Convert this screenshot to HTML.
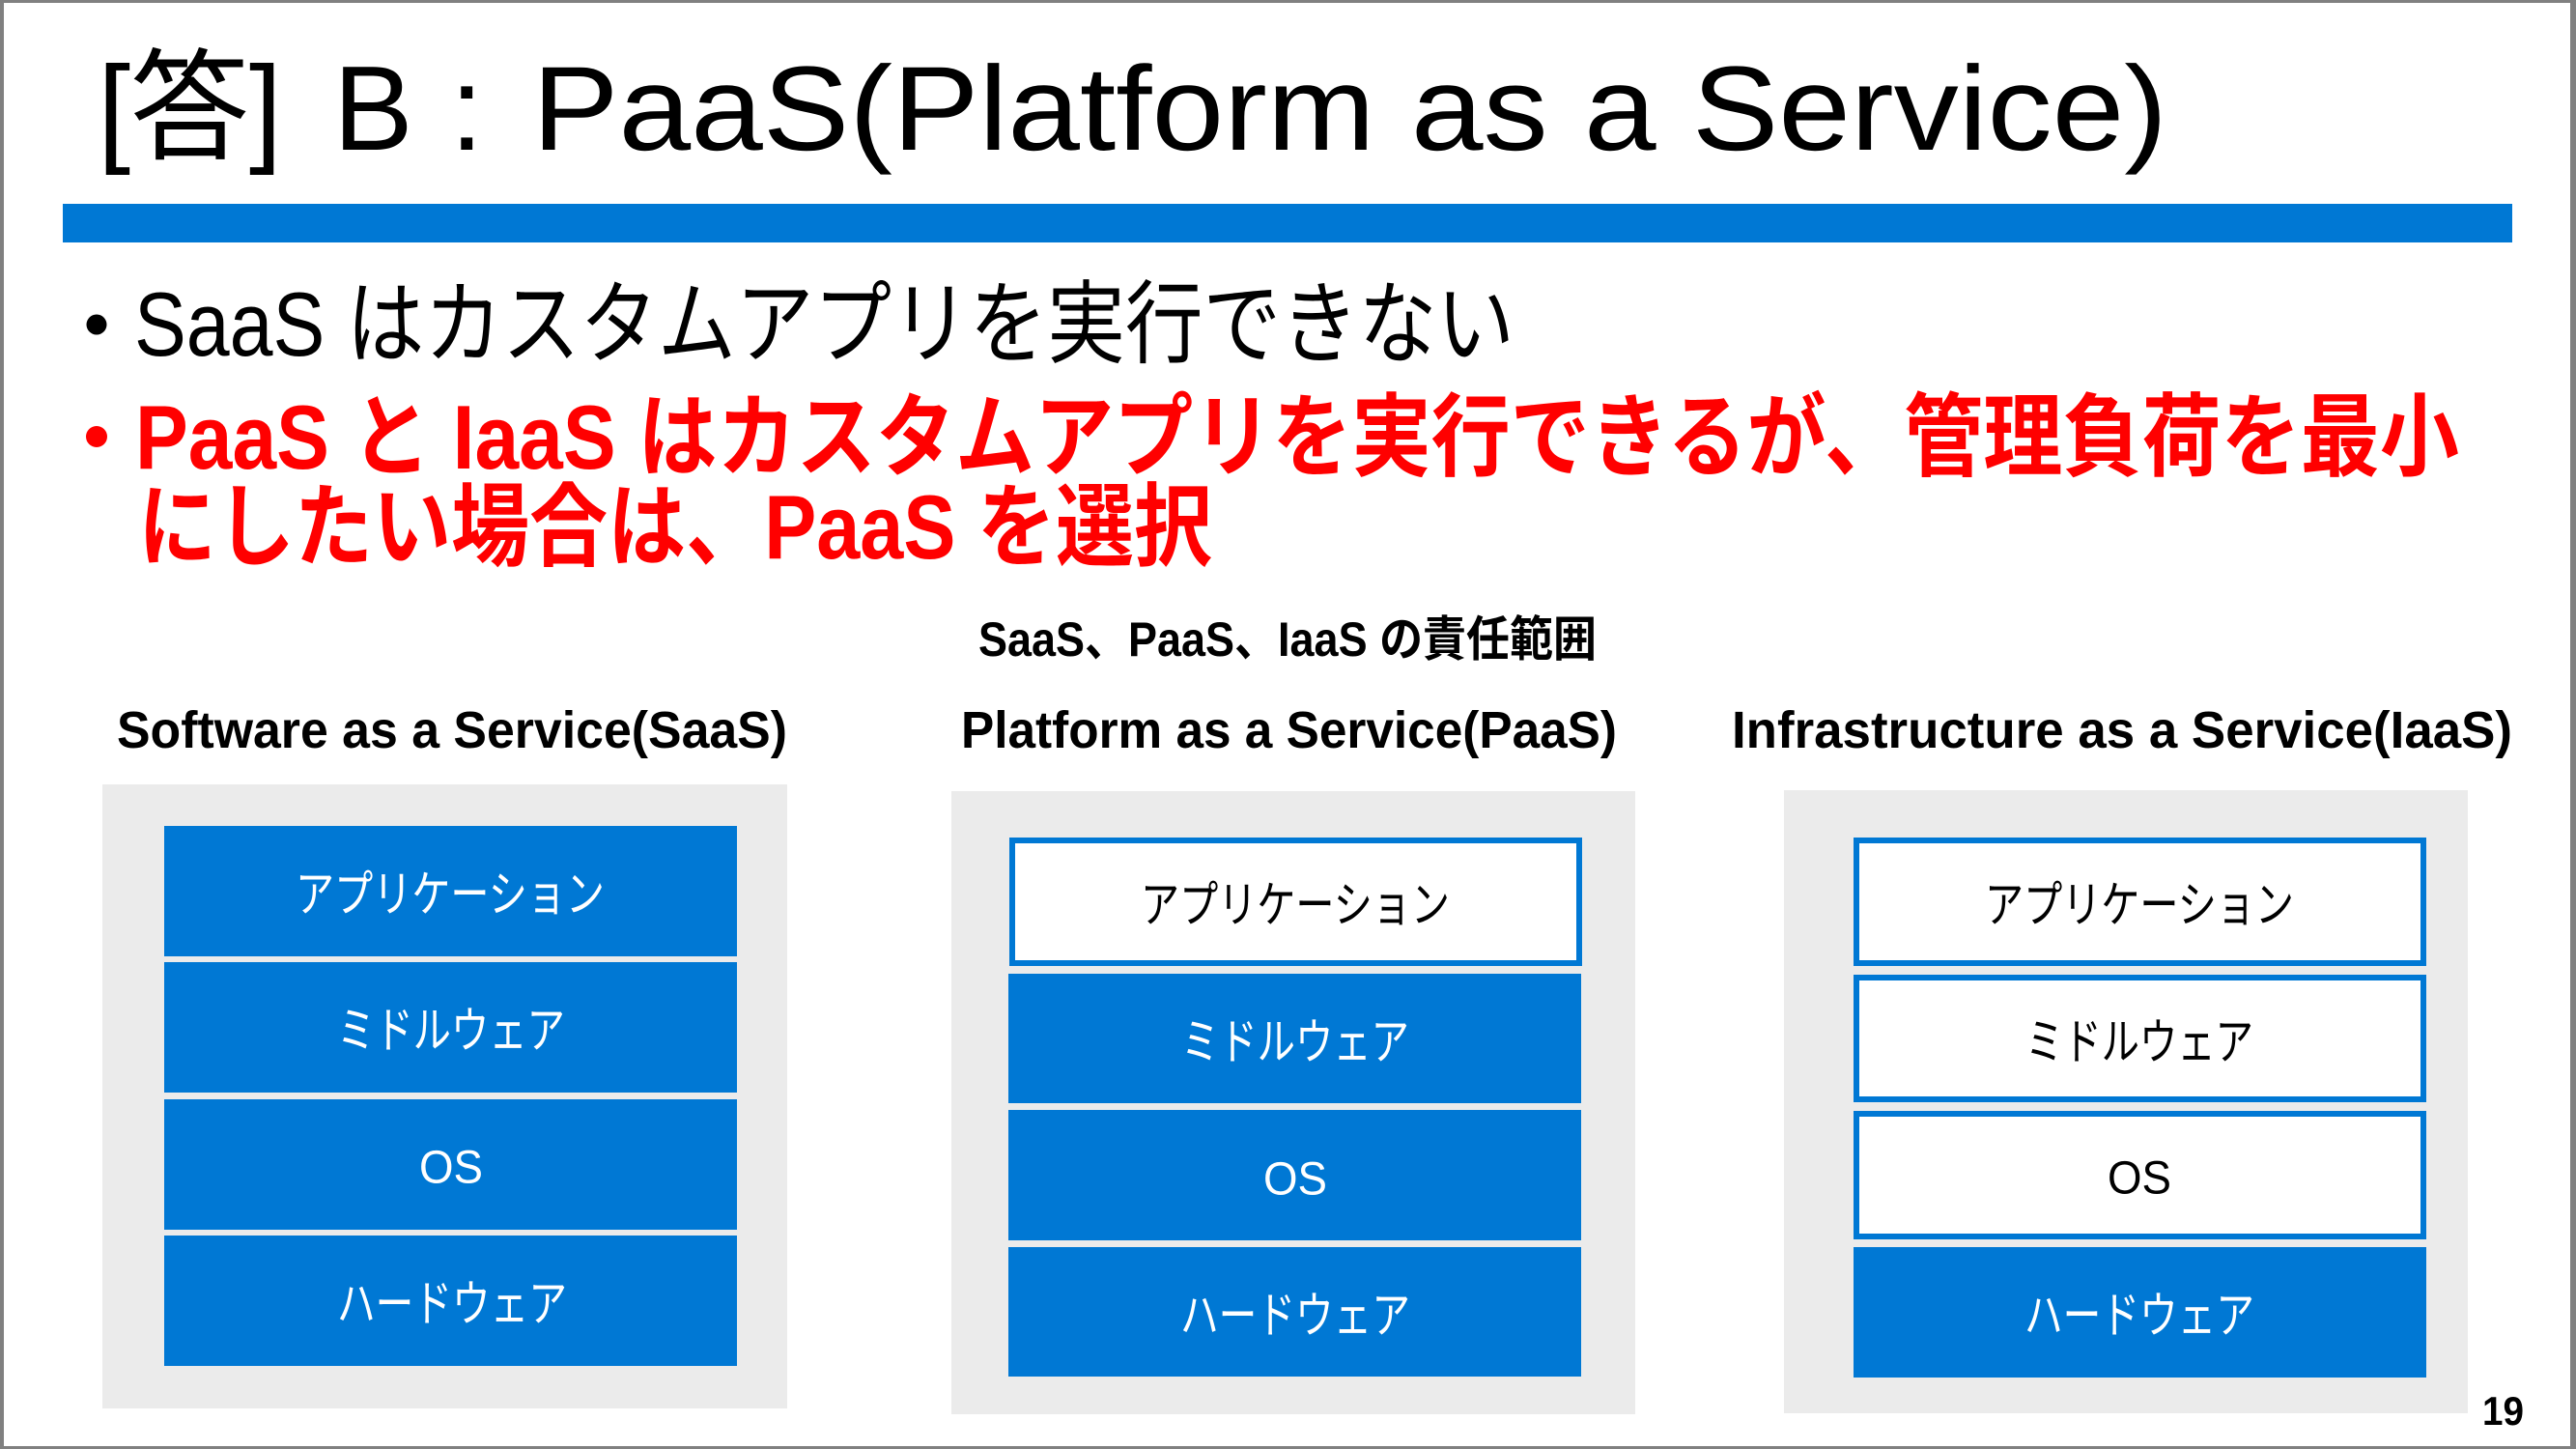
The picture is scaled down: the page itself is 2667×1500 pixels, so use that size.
<!DOCTYPE html>
<html lang="ja">
<head>
<meta charset="utf-8">
<style>
  html, body { margin: 0; padding: 0; background: #ffffff; }
  body { width: 2667px; height: 1500px; overflow: hidden; }
  svg { display: block; }
  .f { font-family: "Liberation Sans", "Noto Sans CJK JP", sans-serif; }
  .b { font-weight: 700; }
</style>
</head>
<body>
<svg width="2667" height="1500" viewBox="0 0 2667 1500" xmlns="http://www.w3.org/2000/svg">
  <!-- page background and frame -->
  <rect x="0" y="0" width="2667" height="1500" fill="#808080"/>
  <rect x="4" y="3" width="2657" height="1494" fill="#ffffff"/>

  <!-- Title -->
  <g class="f" font-size="124" fill="#000">
    <text x="101" y="155" textLength="191" lengthAdjust="spacingAndGlyphs">[答]</text>
    <text x="345" y="155">B</text>
    <text x="466" y="155">:</text>
    <text x="551" y="155" textLength="1693" lengthAdjust="spacingAndGlyphs">PaaS(Platform as a Service)</text>
  </g>

  <!-- Blue rule -->
  <rect x="65" y="211" width="2536" height="40" fill="#0078d4"/>

  <!-- Bullets -->
  <circle cx="100" cy="336" r="10.5" fill="#000"/>
  <text class="f" x="139" y="368" font-size="94" fill="#000" textLength="1429" lengthAdjust="spacingAndGlyphs">SaaS はカスタムアプリを実行できない</text>

  <circle cx="100" cy="452" r="11" fill="#ff0000"/>
  <text class="f b" x="140" y="485" font-size="94" fill="#ff0000" textLength="2406" lengthAdjust="spacingAndGlyphs">PaaS と IaaS はカスタムアプリを実行できるが、管理負荷を最小</text>
  <text class="f b" x="143" y="578" font-size="94" fill="#ff0000" textLength="1112" lengthAdjust="spacingAndGlyphs">にしたい場合は、PaaS を選択</text>

  <!-- Diagram headers -->
  <g class="f b" fill="#000">
    <text x="1013" y="679" font-size="50" textLength="640" lengthAdjust="spacingAndGlyphs">SaaS、PaaS、IaaS の責任範囲</text>
    <text x="121" y="774" font-size="54" textLength="694" lengthAdjust="spacingAndGlyphs">Software as a Service(SaaS)</text>
    <text x="995" y="774" font-size="54" textLength="679" lengthAdjust="spacingAndGlyphs">Platform as a Service(PaaS)</text>
    <text x="1793" y="774" font-size="54" textLength="808" lengthAdjust="spacingAndGlyphs">Infrastructure as a Service(IaaS)</text>
  </g>

  <!-- Panels -->
  <rect x="106" y="812" width="709" height="646" fill="#ebebeb"/>
  <rect x="985" y="819" width="708" height="645" fill="#ebebeb"/>
  <rect x="1847" y="818" width="708" height="645" fill="#ebebeb"/>

  <!-- SaaS boxes (all blue) -->
  <rect x="170" y="855" width="593" height="135" fill="#0078d4"/>
  <rect x="170" y="996" width="593" height="135" fill="#0078d4"/>
  <rect x="170" y="1138" width="593" height="135" fill="#0078d4"/>
  <rect x="170" y="1279" width="593" height="135" fill="#0078d4"/>
  <g class="f" font-size="51" fill="#ffffff" text-anchor="middle" dominant-baseline="central">
    <text x="466" y="926" textLength="320" lengthAdjust="spacingAndGlyphs">アプリケーション</text>
    <text x="467" y="1067" textLength="236" lengthAdjust="spacingAndGlyphs">ミドルウェア</text>
    <text x="467" y="1209" font-size="48" textLength="66" lengthAdjust="spacingAndGlyphs">OS</text>
    <text x="468" y="1350" textLength="238" lengthAdjust="spacingAndGlyphs">ハードウェア</text>
  </g>

  <!-- PaaS boxes -->
  <rect x="1048" y="870" width="587" height="127" fill="#ffffff" stroke="#0078d4" stroke-width="6"/>
  <rect x="1044" y="1008" width="593" height="134" fill="#0078d4"/>
  <rect x="1044" y="1149" width="593" height="135" fill="#0078d4"/>
  <rect x="1044" y="1291" width="593" height="134" fill="#0078d4"/>
  <g class="f" font-size="51" text-anchor="middle" dominant-baseline="central">
    <text x="1341" y="937" fill="#000" textLength="320" lengthAdjust="spacingAndGlyphs">アプリケーション</text>
    <text x="1341" y="1079" fill="#fff" textLength="236" lengthAdjust="spacingAndGlyphs">ミドルウェア</text>
    <text x="1341" y="1221" fill="#fff" font-size="48" textLength="66" lengthAdjust="spacingAndGlyphs">OS</text>
    <text x="1341" y="1362" fill="#fff" textLength="238" lengthAdjust="spacingAndGlyphs">ハードウェア</text>
  </g>

  <!-- IaaS boxes -->
  <rect x="1922" y="870" width="587" height="127" fill="#ffffff" stroke="#0078d4" stroke-width="6"/>
  <rect x="1922" y="1012" width="587" height="126" fill="#ffffff" stroke="#0078d4" stroke-width="6"/>
  <rect x="1922" y="1153" width="587" height="127" fill="#ffffff" stroke="#0078d4" stroke-width="6"/>
  <rect x="1919" y="1291" width="593" height="135" fill="#0078d4"/>
  <g class="f" font-size="51" text-anchor="middle" dominant-baseline="central">
    <text x="2215" y="937" fill="#000" textLength="320" lengthAdjust="spacingAndGlyphs">アプリケーション</text>
    <text x="2215" y="1079" fill="#000" textLength="236" lengthAdjust="spacingAndGlyphs">ミドルウェア</text>
    <text x="2215" y="1220" fill="#000" font-size="48" textLength="66" lengthAdjust="spacingAndGlyphs">OS</text>
    <text x="2215" y="1362" fill="#fff" textLength="238" lengthAdjust="spacingAndGlyphs">ハードウェア</text>
  </g>

  <!-- Page number -->
  <text class="f b" x="2570" y="1475" font-size="42" fill="#000" textLength="43" lengthAdjust="spacingAndGlyphs">19</text>
</svg>
</body>
</html>
